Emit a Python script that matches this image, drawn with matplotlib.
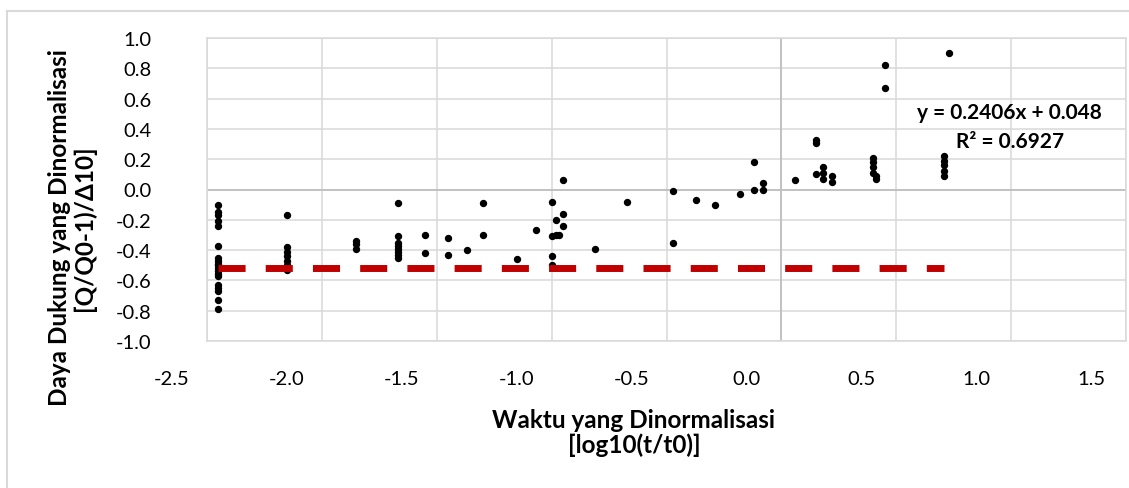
import matplotlib
matplotlib.use('Agg')
import matplotlib.pyplot as plt
import matplotlib.patches as patches
import matplotlib.transforms as mtransforms
import numpy as np

plt.rcParams['font.family'] = ['Lato', 'DejaVu Sans']

# data: each x column with its measured y values
col_x = [-2.45, -2.15, -1.85, -1.67, -1.55, -1.45, -1.37, -1.30, -1.15, -1.07,
         -1.00, -0.98, -0.97, -0.95, -0.81, -0.67, -0.47, -0.37, -0.29, -0.18,
         -0.12, -0.08, 0.06, 0.15, 0.18, 0.22, 0.40, 0.41, 0.45, 0.71, 0.73]
col_y = [
    [-0.10, -0.15, -0.17, -0.21, -0.24, -0.37, -0.45, -0.47, -0.49, -0.50,
     -0.52, -0.54, -0.56, -0.57, -0.63, -0.65, -0.67, -0.73, -0.79],
    [-0.17, -0.38, -0.41, -0.44, -0.47, -0.50, -0.53],
    [-0.34, -0.36, -0.39],
    [-0.09, -0.31, -0.35, -0.37, -0.39, -0.41, -0.43, -0.45],
    [-0.30, -0.42],
    [-0.32, -0.43],
    [-0.40],
    [-0.09, -0.30],
    [-0.46],
    [-0.27],
    [-0.08, -0.31, -0.44, -0.50],
    [-0.30, -0.20],
    [-0.30],
    [0.06, -0.16, -0.24],
    [-0.39],
    [-0.08],
    [-0.01, -0.35],
    [-0.07],
    [-0.10],
    [-0.03],
    [0.18, 0.00],
    [0.04, 0.00],
    [0.06],
    [0.33, 0.31, 0.10],
    [0.15, 0.11, 0.07],
    [0.09, 0.05],
    [0.21, 0.18, 0.15, 0.11],
    [0.09, 0.07],
    [0.82, 0.67],
    [0.22, 0.19, 0.16, 0.12, 0.09],
    [0.90],
]
# garis batas merah
ref_x = [-2.45, 0.71]
ref_y = [-0.52, -0.52]

x_ticks = [-2.5, -2.0, -1.5, -1.0, -0.5, 0.0, 0.5, 1.0, 1.5]
y_ticks = [-1.0, -0.8, -0.6, -0.4, -0.2, 0.0, 0.2, 0.4, 0.6, 0.8, 1.0]

xs = []
ys = []
for cx, cy in zip(col_x, col_y):
    xs += [cx] * len(cy)
    ys += cy

W, H = 1129, 489
fig = plt.figure(figsize=(W / 100, H / 100), dpi=100)
ax = fig.add_axes([207 / W, 1 - 342 / H, (1126 - 207) / W, (342 - 39) / H])

grid_c = '#d9d9d9'
ax.set_xlim(-2.5, 1.5)
ax.set_ylim(-1.0, 1.0)
ax.set_xticks(x_ticks)
ax.set_yticks(y_ticks)
ax.set_xticklabels([f'{v:.1f}' for v in x_ticks])
ax.set_yticklabels([f'{v:.1f}' for v in y_ticks])
ax.grid(True, color=grid_c, linewidth=1.1)
ax.set_axisbelow(True)
ax.axvline(0, color='#bfbfbf', linewidth=1.3, zorder=1)
ax.axhline(0, color='#bfbfbf', linewidth=1.3, zorder=1)
for s in ax.spines.values():
    s.set_color(grid_c)
    s.set_linewidth(1.1)
ax.tick_params(length=0, labelsize=14.5, colors='#000000')
ax.tick_params(axis='x', pad=21)
ax.tick_params(axis='y', pad=40)

# label sumbu-x tergeser ke kiri seperti di gambar asli
shift = mtransforms.ScaledTranslation(-35 / 100, 0, fig.dpi_scale_trans)
for lab in ax.get_xticklabels():
    lab.set_transform(lab.get_transform() + shift)

ax.scatter(xs, ys, s=28, color='black', zorder=3, linewidths=0)
ax.plot(ref_x, ref_y, color='#c00000',
        linewidth=5.0, dashes=(3.9, 2.9), solid_capstyle='butt',
        dash_capstyle='butt', zorder=4)

fig.text(1009 / W, 1 - 113 / H, 'y = 0.2406x + 0.048', ha='center', va='center',
         fontsize=15, fontweight='bold')
fig.text(1010 / W, 1 - 142 / H, 'R² = 0.6927', ha='center', va='center',
         fontsize=15, fontweight='bold')

fig.text(72 / W, 1 - 228 / H, 'Daya Dukung yang Dinormalisasi\n[Q/Q0-1)/Δ10]',
         rotation=90, ha='center', va='center', multialignment='center',
         fontsize=17.5, fontweight='bold', linespacing=1.1)
fig.text(634 / W, 1 - 433 / H, 'Waktu yang Dinormalisasi\n[log10(t/t0)]',
         ha='center', va='center', multialignment='center',
         fontsize=17.5, fontweight='bold', linespacing=1.1)

# bingkai luar area grafik
fig.patches.append(patches.Rectangle((7 / W, -0.1), 2, 1 - 12 / H + 0.1,
                                     transform=fig.transFigure, fill=False,
                                     edgecolor=grid_c, linewidth=1.5))

fig.savefig('out.png', dpi=100)
